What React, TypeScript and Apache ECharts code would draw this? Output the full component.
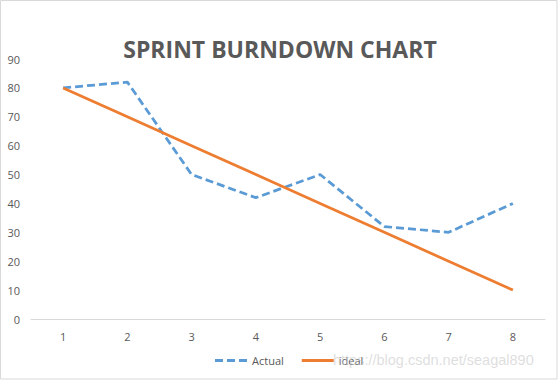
import React, { useEffect, useRef } from "react";
import * as echarts from "echarts";

const categories = ["1", "2", "3", "4", "5", "6", "7", "8"];
const actual = [80, 82, 50, 42, 50, 32, 30, 40];
const ideal = [80, 70, 60, 50, 40, 30, 20, 10];

export default function App() {
  const ref = useRef<HTMLDivElement>(null);
  useEffect(() => {
    document.body.style.margin = "0";
    const chart = echarts.init(ref.current!, null, { renderer: "svg" });
    chart.setOption({
      animation: false,
      backgroundColor: "#ffffff",
      title: {
        text: "SPRINT BURNDOWN CHART",
        left: "center",
        top: 32,
        textStyle: {
          fontFamily: "Open Sans",
          fontWeight: "bold",
          fontSize: 23,
          color: "#595959",
        },
      },
      grid: { left: 31, right: 15, top: 59, bottom: 62, containLabel: false },
      legend: {
        bottom: 10,
        left: 210,
        itemWidth: 32,
        itemHeight: 3,
        itemGap: 18,
        textStyle: { fontFamily: "Open Sans", fontSize: 11, color: "#595959" },
        data: [
          { name: "Actual", icon: "path://M0,0H8V3H0Z M12,0H20V3H12Z M24,0H32V3H24Z" },
          { name: "ideal", icon: "rect" },
        ],
      },
      xAxis: {
        type: "category",
        data: categories,
        boundaryGap: true,
        axisLine: { lineStyle: { color: "#d9d9d9", width: 1 } },
        axisTick: { show: false },
        axisLabel: { color: "#595959", fontFamily: "Open Sans", fontSize: 11, margin: 12 },
      },
      yAxis: {
        type: "value",
        min: 0,
        max: 90,
        interval: 10,
        axisLine: { show: false },
        axisTick: { show: false },
        splitLine: { show: false },
        axisLabel: { color: "#595959", fontFamily: "Open Sans", fontSize: 11, margin: 11 },
      },
      series: [
        {
          name: "Actual",
          type: "line",
          data: actual,
          symbol: "none",
          color: "#5B9BD5",
          lineStyle: { width: 2.75, type: [8, 4], color: "#5B9BD5" },
        },
        {
          name: "ideal",
          type: "line",
          data: ideal,
          symbol: "none",
          color: "#ED7D31",
          lineStyle: { width: 2.75, color: "#ED7D31" },
        },
      ],
      graphic: [
        {
          type: "rect",
          shape: { x: 0.5, y: 0.5, width: 556.5, height: 378.5 },
          style: { fill: "none", stroke: "#d9d9d9", lineWidth: 1 },
          silent: true,
        },
        {
          type: "text",
          left: 333,
          top: 352,
          style: {
            text: "https://blog.csdn.net/seagal890",
            fontFamily: "Liberation Sans",
            fontSize: 14.5,
            fill: "rgba(200,200,200,0.6)",
          },
          silent: true,
          z: 100,
        },
      ],
    });
    return () => chart.dispose();
  }, []);
  return <div ref={ref} style={{ width: 560, height: 381 }} />;
}
